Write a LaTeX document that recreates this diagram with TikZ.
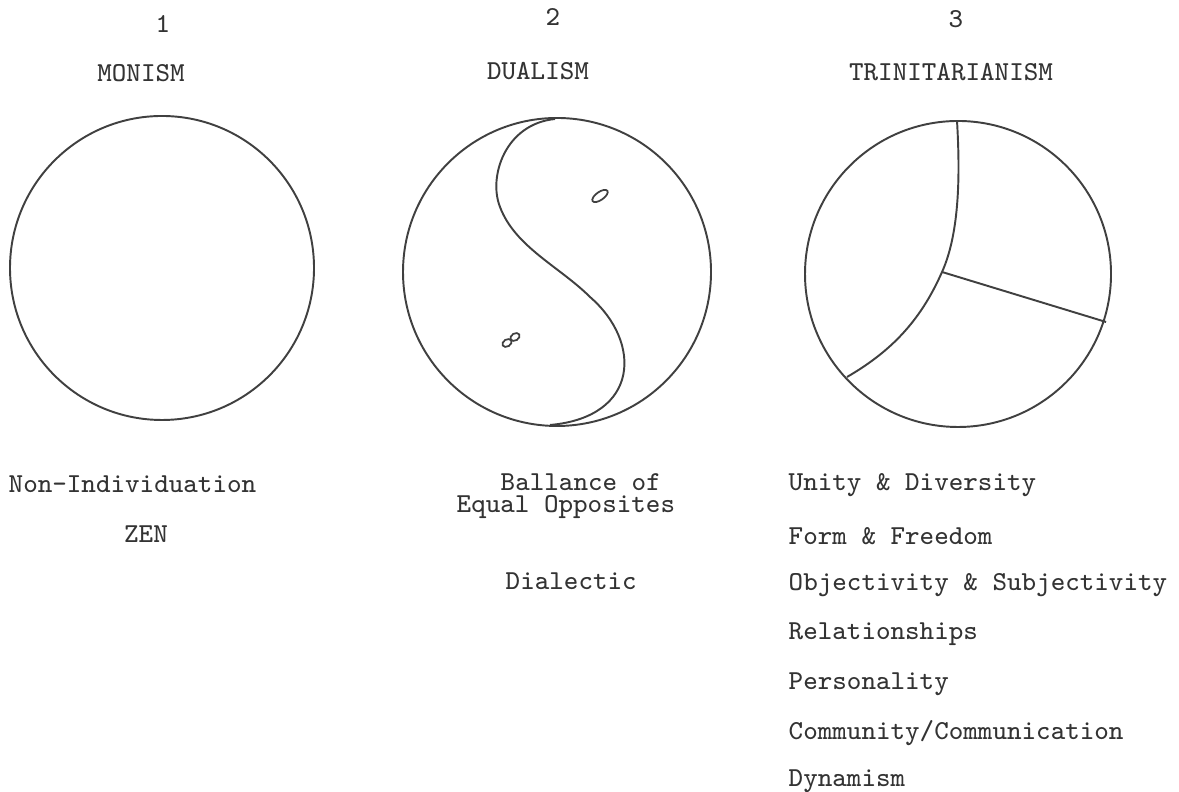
\documentclass[tikz,border=0pt]{standalone}
\usepackage{tikz}
\usepackage{xcolor}
\usetikzlibrary{positioning}

\tikzset{
    ring/.style={draw=black!75, line width=0.55pt},
    typed/.style={inner sep=0pt, text=black!80, font=\fontsize{7.8}{9}\selectfont\ttfamily},
    lefttyped/.style={typed, anchor=west}
}

\begin{document}
\begin{tikzpicture}
    \useasboundingbox (0,0) rectangle (11.79,7.92);

    % the three circles
    \draw[ring] (1.62,5.24) circle (1.52);
    \draw[ring] (5.57,5.20) circle (1.54);
    \draw[ring] (9.58,5.18) circle (1.53);

    % dualism: the s-curve and the two small eyes
    \draw[ring] (5.55,6.73) .. controls (5.05,6.68) and (4.88,6.15) .. (5.00,5.85)
        .. controls (5.15,5.45) and (5.60,5.25) .. (5.90,4.95)
        .. controls (6.42,4.50) and (6.40,3.75) .. (5.50,3.67);
    \draw[ring, line width=0.5pt] (6.00,5.96) ellipse[x radius=0.09, y radius=0.04, rotate=35];
    \draw[ring, line width=0.5pt] (5.07,4.49) ellipse[x radius=0.05, y radius=0.035, rotate=30];
    \draw[ring, line width=0.5pt] (5.15,4.55) ellipse[x radius=0.05, y radius=0.035, rotate=30];

    % trinitarianism: three parts
    \coordinate (mid) at (9.42,5.20);
    \draw[ring] (9.57,6.71) .. controls (9.60,6.20) and (9.60,5.60) .. (mid)
        .. controls (9.20,4.70) and (8.90,4.40) .. (8.47,4.15);
    \draw[ring] (mid) -- (11.06,4.70);

    % headings
    \node[typed] (n1) at (1.63,7.68) {1};
    \node[typed] (mon) at (1.41,7.19) {MONISM};
    \node[typed] (n2) at (5.53,7.75) {2};
    \node[typed] (dua) at (5.38,7.21) {DUALISM};
    \node[typed] (n3) at (9.56,7.73) {3};
    \node[typed] (tri) at (9.51,7.20) {TRINITARIANISM};

    % under circle 1
    \node[lefttyped] (nonind) at (0.08,3.08) {Non-Individuation};
    \node[typed] (zen) at (1.46,2.58) {ZEN};

    % under circle 2
    \node[lefttyped] (ball) at (5.00,3.10) {Ballance of};
    \node[lefttyped] (equal) at (4.56,2.85) {Equal Opposites};
    \node[lefttyped] (dial) at (5.05,2.11) {Dialectic};

    % under circle 3
    \node[lefttyped] (unity) at (7.88,3.07) {Unity \& Diversity};
    \node[lefttyped] (form) at (7.88,2.56) {Form \& Freedom};
    \node[lefttyped] (obj) at (7.88,2.07) {Objectivity \& Subjectivity};
    \node[lefttyped] (rel) at (7.88,1.58) {Relationships};
    \node[lefttyped] (pers) at (7.88,1.08) {Personality};
    \node[lefttyped] (comm) at (7.88,0.59) {Community/Communication};
    \node[lefttyped] (dyn) at (7.88,0.11) {Dynamism};

\end{tikzpicture}
\end{document}
